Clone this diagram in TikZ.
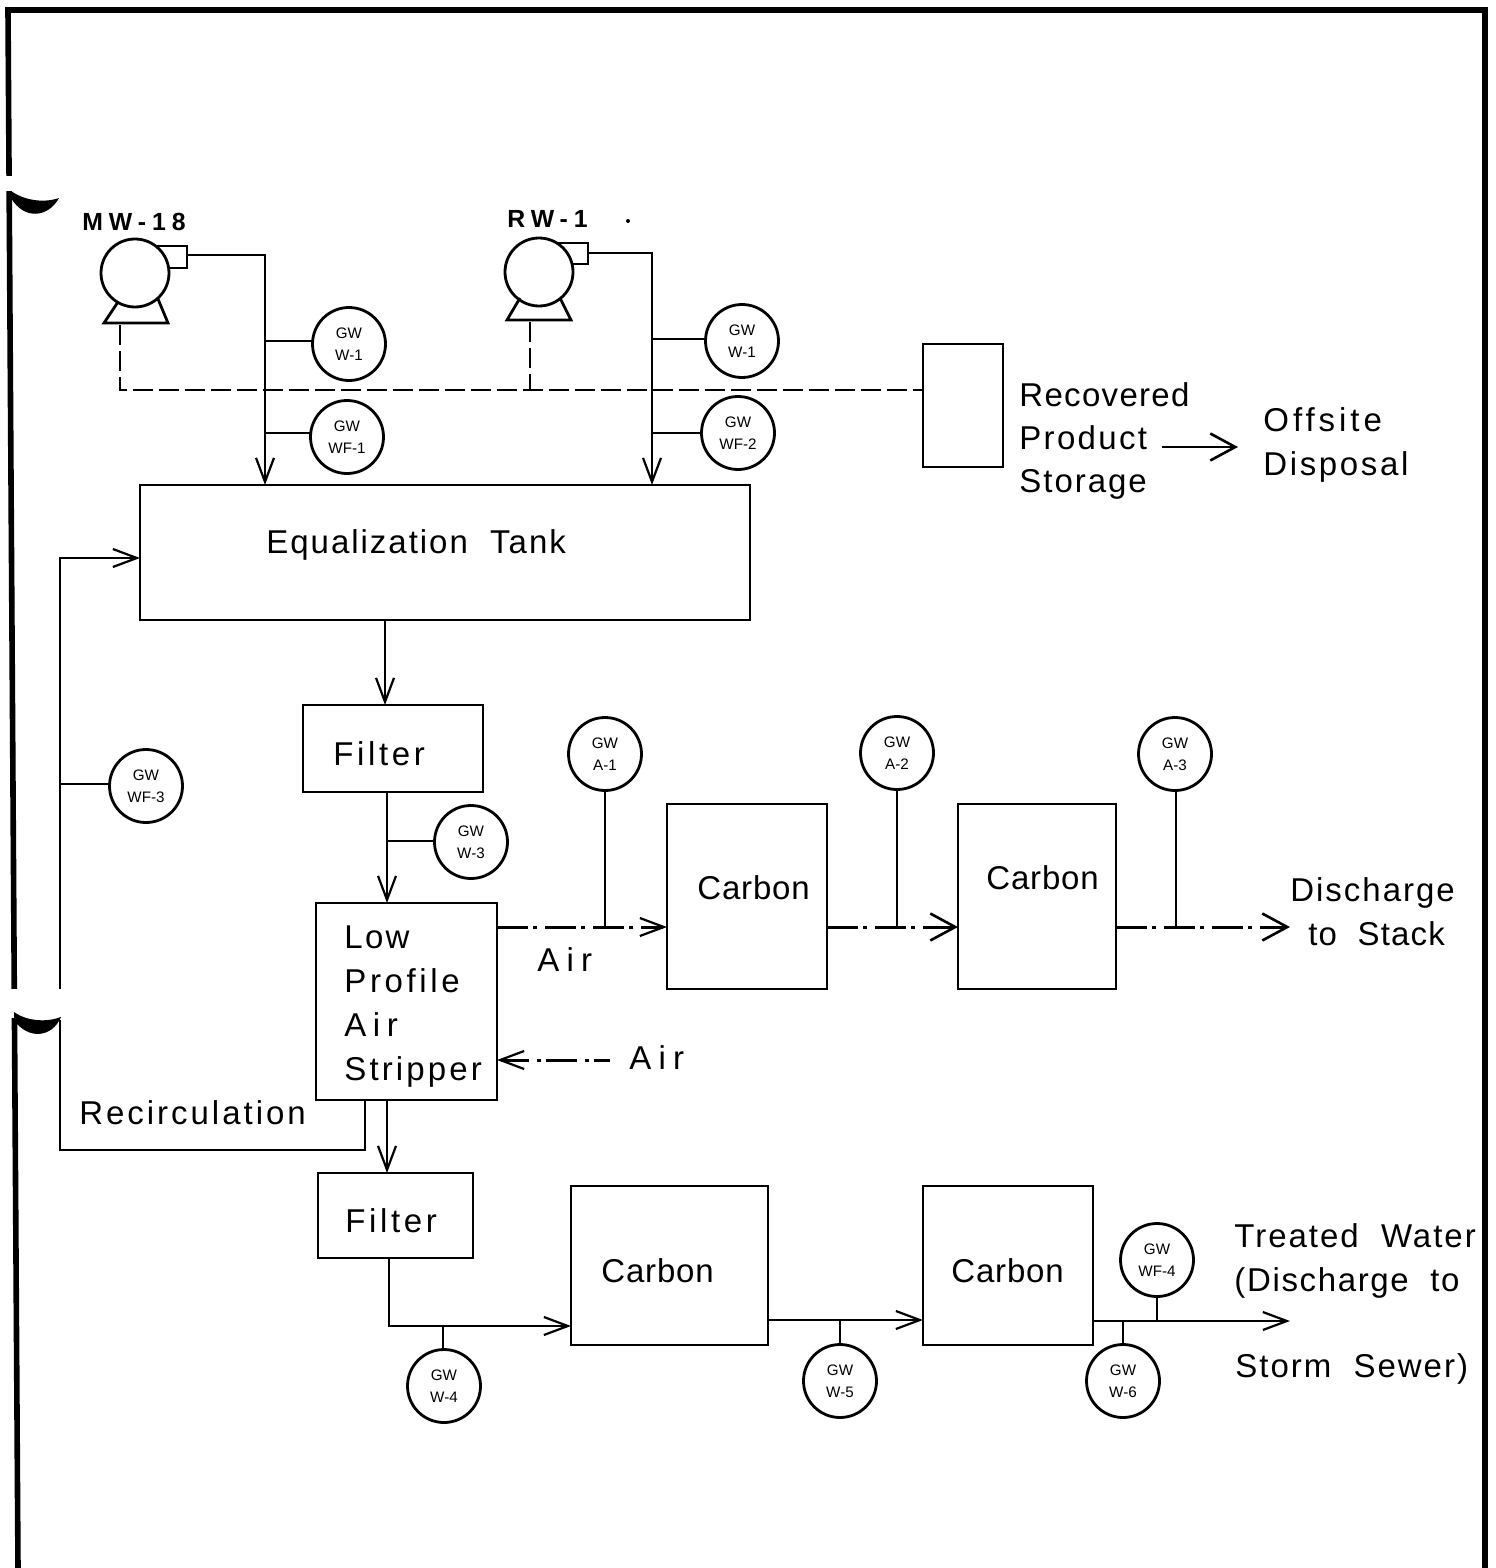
\documentclass[tikz,border=0pt]{standalone}
\usepackage{fontspec}
\usetikzlibrary{arrows.meta}
\setmainfont{Liberation Sans}
\newfontfamily\boldlbl[LetterSpace=24]{Liberation Sans Bold}
\tikzset{
  pipe/.style={line width=1.4pt},
  narrowtip/.style={-{Straight Barb[length=12pt,width=9pt,line width=1.1pt]}},
  widetip/.style={-{Straight Barb[length=12.5pt,width=13.5pt,line width=1.3pt]}},
  arr/.style={pipe,narrowtip},
  bigarr/.style={pipe,widetip},
  unit/.style={draw,line width=1.45pt,inner sep=0pt,outer sep=0pt},
  gauge/.style={draw,circle,line width=1.4pt,minimum size=36.5pt,inner sep=0pt,outer sep=0pt,align=center,font=\fontsize{7.6}{10.8}\selectfont},
  lbl/.style={anchor=base west,inner sep=0pt,font=\fontsize{16.5}{20}\selectfont\addfontfeature{LetterSpace=#1}},
  tag/.style={anchor=base west,inner sep=0pt,font=\fontsize{12.4}{14}\boldlbl},
  dashline/.style={line width=1.4pt,dash pattern=on 10pt off 3pt},
  airline/.style={line width=1.5pt,dash pattern=on 15.5pt off 2.5pt on 2pt off 4pt},
  border/.style={line width=2.8pt},
  pumpline/.style={line width=1.4pt,line join=miter}
}
\begin{document}
\begin{tikzpicture}[x=0.5pt,y=-0.5pt]
\useasboundingbox (0,0) rectangle (1495,1568);
\fill[white] (0,0) rectangle (1495,1568);
% sheet border
\draw[border] (1485,1568) -- (1485,10) -- (8,10) -- (18,1568);
% process units
\node[unit,minimum width=305pt,minimum height=67.5pt] (eq) at (445,552.5) {};
\node[unit,minimum width=90pt,minimum height=43.5pt] (filterA) at (393,748.5) {};
\node[unit,minimum width=90.5pt,minimum height=98.5pt] (strip) at (406.5,1001.5) {};
\node[unit,minimum width=77.5pt,minimum height=42.5pt] (filterB) at (395.5,1215.5) {};
\node[unit,minimum width=80pt,minimum height=92.5pt] (cA) at (747,896.5) {};
\node[unit,minimum width=79pt,minimum height=92.5pt] (cB) at (1037,896.5) {};
\node[unit,minimum width=98.5pt,minimum height=79.5pt] (cC) at (669.5,1265.5) {};
\node[unit,minimum width=85pt,minimum height=79.5pt] (cD) at (1008,1265.5) {};
\node[unit,minimum width=40pt,minimum height=61.5pt] (store) at (963,405.5) {};
% pumps
\node[draw,circle,pumpline,minimum size=34pt,inner sep=0pt,outer sep=0pt] (pumpA) at (135,273) {};
\node[draw,circle,pumpline,minimum size=34pt,inner sep=0pt,outer sep=0pt] (pumpB) at (539,272) {};
\coordinate (outA) at (187,255);
\coordinate (outB) at (588,253);
\draw[pumpline] (155,246) -- (187,246) -- (187,268) -- (168,268);
\draw[pumpline] (558,243) -- (588,243) -- (588,264) -- (572,264);
\draw[pumpline] (118,302) -- (104,323) -- (168,323) -- (158,299);
\draw[pumpline] (520,298) -- (507,320) -- (571,320) -- (560,298);
% gauges
\node[gauge] (gwA) at (349,344) {GW\\W-1};
\node[gauge] (gfA) at (347,437) {GW\\WF-1};
\node[gauge] (gwB) at (742,341) {GW\\W-1};
\node[gauge] (gfB) at (738,433) {GW\\WF-2};
\node[gauge] (gfC) at (146,786) {GW\\WF-3};
\node[gauge] (gwC) at (471,842) {GW\\W-3};
\node[gauge] (gaA) at (605,754) {GW\\A-1};
\node[gauge] (gaB) at (897,753) {GW\\A-2};
\node[gauge] (gaC) at (1175,754) {GW\\A-3};
\node[gauge] (gwD) at (444,1386) {GW\\W-4};
\node[gauge] (gwE) at (840,1381) {GW\\W-5};
\node[gauge] (gwF) at (1123,1381) {GW\\W-6};
\node[gauge] (gfD) at (1157,1260) {GW\\WF-4};
% junctions and free ends
\coordinate (cornerA) at (265,255);
\coordinate (cornerB) at (652,253);
\coordinate (jwA) at (265,341);
\coordinate (jfA) at (265,433);
\coordinate (jwB) at (652,339);
\coordinate (jfB) at (652,433);
\coordinate (dashA) at (120,325);
\coordinate (dashAc) at (120,390);
\coordinate (dashB) at (530,322);
\coordinate (dashBj) at (530,390);
\coordinate (prodA) at (1162,447);
\coordinate (prodB) at (1238,447);
\coordinate (airA) at (667,927);
\coordinate (airOut) at (1290,927);
\coordinate (airIn) at (610,1060);
\coordinate (rec) at (365,1150);
\coordinate (recC) at (60,1150);
\coordinate (recGapA) at (60,1020);
\coordinate (recGapB) at (60,990);
\coordinate (recT) at (60,558);
\coordinate (jrec) at (60,784);
\coordinate (jA) at (605,927);
\coordinate (jB) at (897,927);
\coordinate (jC) at (1176,927);
\coordinate (bendF) at (389,1326);
\coordinate (jD) at (443,1326);
\coordinate (jE) at (840,1320);
\coordinate (jF) at (1123,1321);
\coordinate (jG) at (1157,1321);
\coordinate (waterOut) at (1290,1321);
% water lines
\draw[arr] (outA) -- (cornerA) -- (cornerA |- eq.north);
\draw[arr] (outB) -- (cornerB) -- (cornerB |- eq.north);
\draw[pipe] (jwA) -- (jwA -| gwA.west);
\draw[pipe] (jfA) -- (jfA -| gfA.west);
\draw[pipe] (jwB) -- (jwB -| gwB.west);
\draw[pipe] (jfB) -- (jfB -| gfB.west);
\draw[dashline] (dashA) -- (dashAc) -- (dashAc -| store.west);
\draw[dashline] (dashB) -- (dashBj);
\draw[bigarr] (prodA) -- (prodB);
\draw[arr] (385,620) -- (385,705);
\draw[arr] (387,792) -- (387,903);
\draw[pipe] (387,841) -- (435,841);
\draw[arr] (387,1100) -- (387,1173);
\draw[pipe] (365,1100) -- (rec) -- (recC) -- (recGapA);
\draw[arr] (recGapB) -- (recT) -- (recT -| eq.west);
\draw[pipe] (jrec) -- (jrec -| gfC.west);
% air lines
\draw[airline,narrowtip] (strip.east |- airA) -- (airA);
\draw[airline,widetip] (cA.east |- airA) -- (cB.west |- airA);
\draw[airline,widetip] (cB.east |- airA) -- (airOut);
\draw[airline,dash phase=7.5pt,narrowtip] (airIn) -- (airIn -| strip.east);
\draw[pipe] (jA) -- (jA |- gaA.south);
\draw[pipe] (jB) -- (jB |- gaB.south);
\draw[pipe] (jC) -- (jC |- gaC.south);
% lower train
\draw[arr] (filterB.south -| bendF) -- (bendF) -- (bendF -| cC.west);
\draw[arr] (cC.east |- jE) -- (cD.west |- jE);
\draw[arr] (cD.east |- jF) -- (waterOut);
\draw[pipe] (jD) -- (jD |- gwD.north);
\draw[pipe] (jE) -- (jE |- gwE.north);
\draw[pipe] (jF) -- (jF |- gwF.north);
\draw[pipe] (jG) -- (jG |- gfD.south);
% punch-hole marks
\fill[white] (0,176) rectangle (15,191);
\fill[white] (10,989) rectangle (66,1018);
\fill[black] (11,191) .. controls (25,201) and (45,203) .. (59,198) .. controls (48,218) and (24,220) .. (11,198) -- cycle;
\fill[black] (14,1012) .. controls (28,1022) and (48,1022) .. (61,1017) .. controls (52,1038) and (28,1040) .. (14,1020) -- cycle;
\fill[black] (628,221) circle (2);
% labels
\node[tag] (tMW) at (82,230) {MW-18};
\node[tag] (tRW) at (507,227) {RW-1};
\node[lbl=6] (tEq) at (266,553) {Equalization\ \ Tank};
\node[lbl=4] (tRa) at (1019,406) {Recovered};
\node[lbl=7] (tRb) at (1019,449) {Product};
\node[lbl=6] (tRc) at (1019,492) {Storage};
\node[lbl=12] (tOa) at (1263,431) {Offsite};
\node[lbl=8] (tOb) at (1263,475) {Disposal};
\node[lbl=11] (tFa) at (333,765) {Filter};
\node[lbl=7] (tLa) at (344,948) {Low};
\node[lbl=11] (tLb) at (344,992) {Profile};
\node[lbl=20] (tLc) at (344,1036) {Air};
\node[lbl=9.5] (tLd) at (344,1080) {Stripper};
\node[lbl=22] (tAa) at (537,971) {Air};
\node[lbl=22] (tAb) at (629,1069) {Air};
\node[lbl=2.5] (tCa) at (697,899) {Carbon};
\node[lbl=2.5] (tCb) at (986,889) {Carbon};
\node[lbl=2.5] (tCc) at (601,1282) {Carbon};
\node[lbl=2.5] (tCd) at (951,1282) {Carbon};
\node[lbl=6] (tDa) at (1290,901) {Discharge};
\node[lbl=3.5] (tDb) at (1308,945) {to\ \ Stack};
\node[lbl=11] (tFb) at (345,1232) {Filter};
\node[lbl=9] (tRe) at (79,1124) {Recirculation};
\node[lbl=6] (tTa) at (1234,1247) {Treated\ \ Water};
\node[lbl=5] (tTb) at (1234,1291) {(Discharge\ \ to};
\node[lbl=6] (tTc) at (1235,1377) {Storm\ \ Sewer)};
\end{tikzpicture}
\end{document}
